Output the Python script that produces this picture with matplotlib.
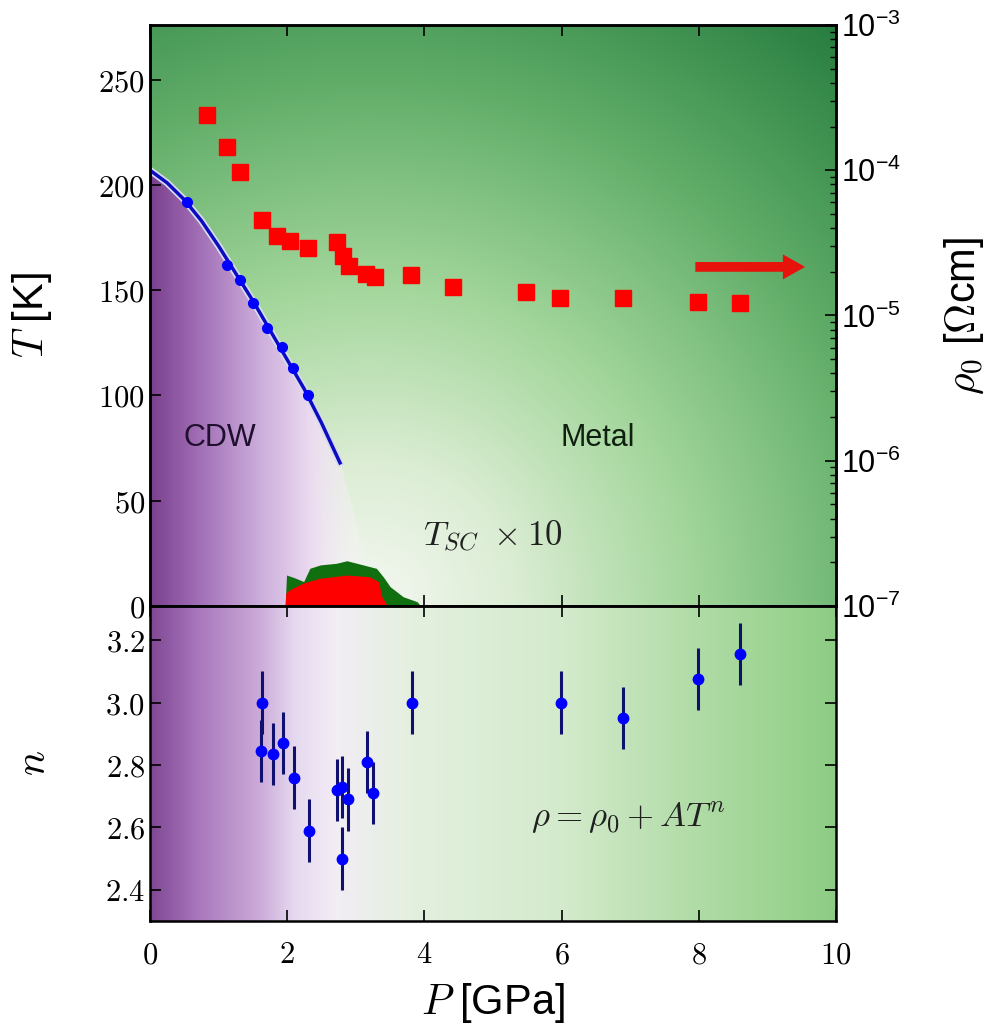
import numpy as np
import matplotlib
matplotlib.use('Agg')
import matplotlib.pyplot as plt
from matplotlib.ticker import FixedLocator, FuncFormatter, LogLocator, NullFormatter, NullLocator

plt.rcParams['mathtext.fontset'] = 'cm'
plt.rcParams['font.family'] = ['Liberation Sans', 'DejaVu Sans']

# --- CDW transition (points + fit line) ---
P_cdw = [0.54, 1.12, 1.31, 1.50, 1.70, 1.92, 2.08, 2.30]
T_cdw = [192, 162, 155, 144, 132, 123, 113, 100]
P_fit = [0.0, 0.25, 0.5, 0.75, 1.0, 1.25, 1.5, 1.75, 2.0, 2.25, 2.5, 2.77]
T_fit = [207, 201, 193, 183, 171, 158, 145, 131, 117, 103, 87, 68]

# --- residual resistivity rho0 (right axis) ---
P_rho = [0.83, 1.12, 1.31, 1.63, 1.85, 2.04, 2.30, 2.73, 2.82, 2.90, 3.15, 3.28,
         3.80, 4.42, 5.48, 5.98, 6.90, 7.99, 8.60]
rho0 = [2.40e-4, 1.45e-4, 9.7e-5, 4.54e-5, 3.52e-5, 3.26e-5, 2.92e-5, 3.2e-5, 2.57e-5,
        2.19e-5, 1.93e-5, 1.84e-5, 1.90e-5, 1.57e-5, 1.45e-5, 1.32e-5, 1.32e-5,
        1.24e-5, 1.22e-5]

# --- superconducting dome, T_sc x 10 ---
P_sc1 = [1.97, 1.99, 2.10, 2.24, 2.33, 2.48, 2.72, 2.87, 3.11, 3.30, 3.40, 3.50, 3.69, 3.89, 3.95]
T_sc1 = [0.0, 14.7, 13.5, 11.6, 17.9, 19.5, 20.3, 21.5, 19.5, 17.9, 13.9, 9.2, 4.4, 2.1, 0.0]
P_sc2 = [1.97, 1.98, 2.04, 2.24, 2.48, 2.87, 3.20, 3.33, 3.38, 3.44, 3.46]
T_sc2 = [0.0, 6.2, 7.8, 11.0, 13.2, 14.7, 13.9, 11.6, 4.4, 1.2, 0.0]

# --- exponent n ---
P_n = [1.63, 1.62, 1.80, 1.94, 2.10, 2.32, 2.72, 2.80, 2.89, 2.80, 3.16, 3.25,
       3.82, 5.99, 6.90, 7.99, 8.60]
n_val = [3.00, 2.845, 2.835, 2.87, 2.76, 2.59, 2.72, 2.73, 2.69, 2.50, 2.81, 2.71,
         3.00, 3.00, 2.95, 3.076, 3.157]
n_err = [0.1] * len(P_n)

P_ticks = [0, 2, 4, 6, 8, 10]
T_ticks = [0, 50, 100, 150, 200, 250]
n_ticks = [2.4, 2.6, 2.8, 3.0, 3.2]

fig = plt.figure(figsize=(9.92, 10.32), dpi=100)
ax = fig.add_axes([0.1512, 0.4128, 0.6915, 0.5630])
axb = fig.add_axes([0.1512, 0.1076, 0.6915, 0.3052], sharex=ax)

# ---- background shading ----
def ramp(x, stops, cols):
    cols = np.array(cols)
    return np.stack([np.interp(x, stops, cols[:, i]) for i in range(3)], axis=-1)

Tmax = 276
pp, tt = np.meshgrid(np.linspace(0, 10, 500), np.linspace(0, Tmax, 400))
d = np.sqrt(((pp - 3.2) / 8.5) ** 2 + (tt / Tmax) ** 2)
green = ramp(d, [0, 0.25, 0.55, 0.9, 1.3],
             [(0.96, 0.97, 0.95), (0.86, 0.93, 0.83), (0.64, 0.84, 0.61),
              (0.38, 0.68, 0.41), (0.14, 0.48, 0.24)])
purple = ramp(pp, [0, 0.8, 1.6, 2.4, 3.0],
              [(0.48, 0.25, 0.56), (0.65, 0.46, 0.73), (0.80, 0.68, 0.86),
               (0.93, 0.87, 0.95), (0.97, 0.95, 0.97)])
Tb = np.interp(pp, P_fit + [3.0, 3.3], T_fit + [40, 0], right=0)
w = ((tt < Tb) * np.clip((3.2 - pp) / 0.9, 0, 1) ** 0.7)[..., None]
img = w * purple + (1 - w) * green
ax.imshow(img, extent=[0, 10, 0, Tmax], origin='lower', aspect='auto',
          interpolation='bilinear', zorder=0)

pb = np.linspace(0, 10, 500)[None, :].repeat(50, axis=0)
imgb = ramp(pb, [0, 0.7, 1.6, 2.1, 2.7, 3.9, 6, 8, 9.5, 10],
            [(0.50, 0.28, 0.58), (0.66, 0.47, 0.74), (0.80, 0.67, 0.85),
             (0.90, 0.85, 0.94), (0.95, 0.93, 0.96), (0.89, 0.94, 0.87),
             (0.83, 0.92, 0.80), (0.69, 0.86, 0.65), (0.59, 0.82, 0.55),
             (0.55, 0.80, 0.52)])
axb.imshow(imgb, extent=[0, 10, 2.3, 3.31], origin='lower', aspect='auto',
           interpolation='bilinear', zorder=0)

# ---- top panel ----
ax.plot(P_fit, T_fit, color='#d8dcf0', lw=5, zorder=2)
ax.plot(P_fit, T_fit, color='#0c0cc0', lw=2.5, zorder=3)
ax.plot(P_cdw, T_cdw, 'o', color='#0000ff', ms=7, zorder=4)
ax.fill_between(P_sc1, T_sc1, 0, color='#107010', lw=0, zorder=2)
ax.fill_between(P_sc2, T_sc2, 0, color='#ff0000', lw=0, zorder=3)

ax.text(1.02, 80, 'CDW', fontsize=22, ha='center', va='center', color='#201030')
ax.text(6.53, 80, 'Metal', fontsize=22, ha='center', va='center', color='#102010')
ax.text(4.99, 33, r'$T_{SC}\ \times 10$', fontsize=25, ha='center', va='center', color='#202020')

ax.set_xlim(0, 10)
ax.set_ylim(0, Tmax)
ax.yaxis.set_major_locator(FixedLocator(T_ticks))
ax.yaxis.set_major_formatter(FuncFormatter(lambda v, p: '$%d$' % v))
ax.set_ylabel(r'$T$ [K]', fontsize=30)
ax.yaxis.set_label_coords(-0.14, 0.5)
ax.tick_params(axis='x', labelbottom=False)

ax2 = ax.twinx()
ax2.set_yscale('log')
ax2.set_ylim(1e-7, 1e-3)
ax2.plot(P_rho, rho0, 's', color='#ff0000', ms=12, zorder=5)
ax2.annotate('', xy=(9.55, 2.16e-5), xytext=(7.95, 2.16e-5),
             arrowprops=dict(color='#e8120c', width=7, headwidth=18, headlength=16, lw=0))
ax2.yaxis.set_major_locator(LogLocator(base=10, numticks=10))
ax2.yaxis.set_minor_locator(LogLocator(base=10, subs=np.arange(2, 10), numticks=10))
ax2.yaxis.set_minor_formatter(NullFormatter())
ax2.set_ylabel(r'$\rho_0$ [$\Omega$cm]', fontsize=30)
ax2.yaxis.set_label_coords(1.156, 0.5)

# ---- bottom panel ----
axb.errorbar(P_n, n_val, yerr=n_err, fmt='o', color='#0000ff', ms=7.5,
             ecolor='#101070', elinewidth=2.2, capsize=0, zorder=4)
axb.text(6.97, 2.63, r'$\rho = \rho_0 + AT^n$', fontsize=25, ha='center', va='center',
         color='#202020')
axb.set_ylim(2.3, 3.31)
axb.yaxis.set_major_locator(FixedLocator(n_ticks))
axb.yaxis.set_major_formatter(FuncFormatter(lambda v, p: '$%.1f$' % v))
axb.xaxis.set_major_locator(FixedLocator(P_ticks))
axb.xaxis.set_major_formatter(FuncFormatter(lambda v, p: '$%d$' % v))
axb.set_ylabel(r'$n$', fontsize=30)
axb.yaxis.set_label_coords(-0.14, 0.5)
axb.set_xlabel(r'$P$ [GPa]', fontsize=30)
axb.xaxis.set_label_coords(0.5, -0.19)

for a in (ax, axb, ax2):
    for s in a.spines.values():
        s.set_linewidth(1.8)
for a in (ax, axb):
    a.tick_params(which='both', direction='in', top=True, right=(a is axb),
                  labelsize=22, length=8, width=1.2)
axb.tick_params(axis='x', pad=14)
ax2.tick_params(which='major', direction='in', length=8, width=1.2, labelsize=22)
ax2.tick_params(which='minor', direction='in', length=4, width=1.0)
ax.xaxis.set_minor_locator(NullLocator())

fig.savefig('out.png', dpi=100)
